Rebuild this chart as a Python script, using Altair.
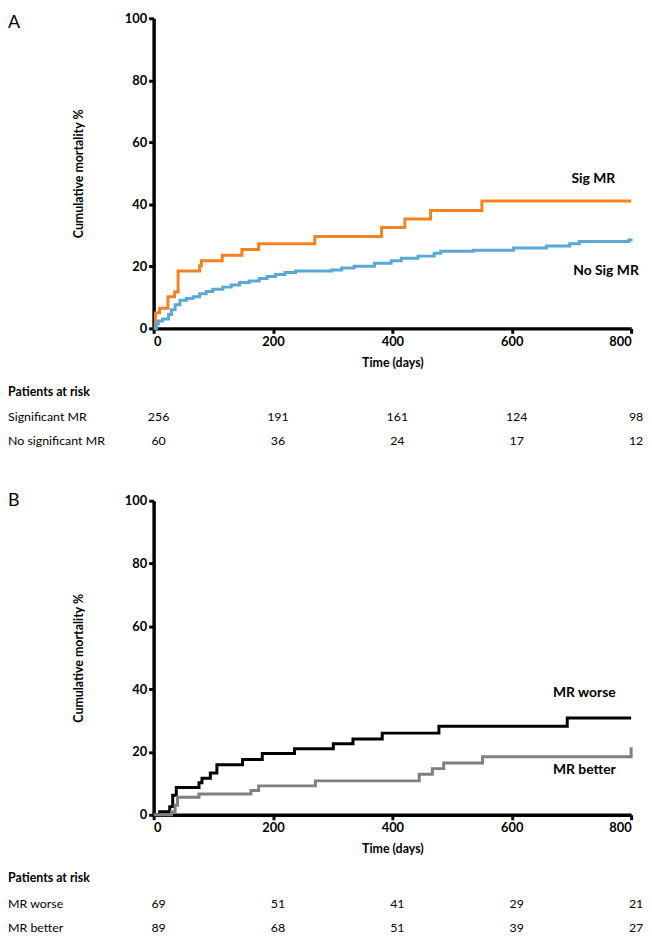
import altair as alt
import pandas as pd

FONT = "Lato"

# ---------------- Panel A data ----------------
sig_days = [0, 3, 10, 24, 35, 41, 77, 80, 115, 148, 176, 270, 382, 421, 464, 550, 800]
sig_pct = [0, 5.0, 6.5, 10.2, 11.7, 18.5, 20.2, 21.8, 23.6, 25.4, 27.3, 29.6, 32.5, 35.3, 38.0, 41.1, 41.1]

nosig_days = [0, 5, 8, 15, 25, 30, 36, 44, 55, 66, 77, 88, 99, 116, 130, 144, 160, 177, 190, 204,
              220, 238, 298, 315, 336, 370, 398, 415, 443, 470, 481, 536, 603, 658, 697, 713, 796, 800, 800]
nosig_pct = [0, 1.5, 2.4, 3.0, 4.5, 6.0, 7.6, 9.1, 9.6, 10.2, 11.2, 11.9, 12.6, 13.3, 14.0, 14.8, 15.3, 16.1, 16.7, 17.4,
             18.0, 18.5, 18.8, 19.5, 20.0, 21.0, 21.8, 22.6, 23.3, 24.2, 24.9, 25.2, 25.9, 26.6, 27.3, 28.0, 28.5, 28.5, 29.0]

# ---------------- Panel B data ----------------
worse_days = [0, 10, 27, 32, 38, 76, 81, 95, 106, 149, 182, 236, 301, 334, 383, 478, 693, 800]
worse_pct = [0, 1.0, 2.6, 6.2, 8.7, 10.2, 11.6, 13.3, 15.9, 17.6, 19.5, 21.0, 22.6, 24.1, 26.0, 28.2, 30.8, 30.8]

better_days = [0, 30, 36, 40, 76, 163, 176, 271, 445, 467, 486, 551, 800, 800]
better_pct = [0, 1.0, 3.0, 5.6, 6.6, 7.7, 9.2, 10.8, 12.9, 14.7, 16.5, 18.5, 18.5, 21.5]

# at-risk tables
risk_times = [0, 200, 400, 600, 800]
riskA_labels = ["Significant MR", "No significant MR"]
riskA_values = [[256, 191, 161, 124, 98], [60, 36, 24, 17, 12]]
riskB_labels = ["MR worse", "MR better"]
riskB_values = [[69, 51, 41, 29, 21], [89, 68, 51, 39, 27]]

# curve labels
labelsA = ["Sig MR", "No Sig MR"]
labelsA_x = [700, 703]
labelsA_y = [48, 18.6]
labelsB = ["MR worse", "MR better"]
labelsB_x = [669, 669]
labelsB_y = [38.9, 14.3]

W = 482


def curves_df(series):
    rows = []
    for name, d, p in series:
        for i, (x, y) in enumerate(zip(d, p)):
            rows.append({"series": name, "day": x, "pct": y, "idx": i})
    return pd.DataFrame(rows)


def panel(series, colors, lab_text, lab_x, lab_y, risk_labels, risk_values, letter, letter_y, H):
    df = curves_df(series)
    names = [s[0] for s in series]
    xs = alt.X("day:Q", scale=alt.Scale(domain=[0, 800], nice=False),
               axis=alt.Axis(values=[0, 200, 400, 600, 800], title="Time (days)", titlePadding=8))
    ys = alt.Y("pct:Q", scale=alt.Scale(domain=[0, 100], nice=False),
               axis=alt.Axis(values=[0, 20, 40, 60, 80, 100], title="Cumulative mortality %",
                             titleX=-76, titleY=H / 2, titleAngle=-90, titleAlign="center",
                             titleBaseline="middle"))
    lines = alt.Chart(df).mark_line(interpolate="step-after", strokeWidth=3).encode(
        x=xs, y=ys,
        color=alt.Color("series:N", scale=alt.Scale(domain=names, range=colors), legend=None),
        order="idx:Q",
    )
    ldf = pd.DataFrame({"t": lab_text, "day": lab_x, "pct": lab_y})
    labels = alt.Chart(ldf).mark_text(align="left", baseline="middle", font=FONT, fontSize=14,
                                      fontWeight="bold", color="black").encode(
        x="day:Q", y="pct:Q", text="t:N")

    layers = [lines, labels]
    layers.append(alt.Chart(pd.DataFrame({"t": [letter]})).mark_text(
        align="left", baseline="middle", font=FONT, fontSize=18, color="black").encode(
        text="t:N", x=alt.value(-147), y=alt.value(letter_y)))
    layers.append(alt.Chart(pd.DataFrame({"t": ["Patients at risk"]})).mark_text(
        align="left", baseline="middle", font=FONT, fontSize=12.5, fontWeight="bold", color="black").encode(
        text="t:N", x=alt.value(-147), y=alt.value(H + 64)))
    for r, (lab, vals) in enumerate(zip(risk_labels, risk_values)):
        yv = H + 90 + r * 24
        layers.append(alt.Chart(pd.DataFrame({"t": [lab]})).mark_text(
            align="left", baseline="middle", font=FONT, fontSize=12.5, color="black").encode(
            text="t:N", x=alt.value(-147), y=alt.value(yv)))
        rdf = pd.DataFrame({"day": risk_times, "n": vals})
        layers.append(alt.Chart(rdf).mark_text(
            align="center", baseline="middle", font=FONT, fontSize=12.5, color="black", dx=5).encode(
            x=alt.X("day:Q"), text="n:N", y=alt.value(yv)))
    return alt.layer(*layers).properties(width=W, height=H)


A = panel([("Sig MR", sig_days, sig_pct), ("No Sig MR", nosig_days, nosig_pct)],
          ["#F58220", "#5AA8D6"], labelsA, labelsA_x, labelsA_y, riskA_labels, riskA_values, "A", 5, 313)
B = panel([("MR worse", worse_days, worse_pct), ("MR better", better_days, better_pct)],
          ["#000000", "#808080"], labelsB, labelsB_x, labelsB_y, riskB_labels, riskB_values, "B", 0, 317)

chart = alt.vconcat(A, B, spacing=44).resolve_scale(color="independent").properties(
    padding=0
).configure_view(stroke=None).configure_axis(
    grid=False, domainColor="black", domainWidth=3.5, tickColor="black", tickWidth=3, tickSize=5,
    labelFont=FONT, labelFontSize=13, labelFontWeight="bold", labelColor="black", labelPadding=2,
    titleFont=FONT, titleFontSize=12.5, titleFontWeight="bold", titleColor="black",
)

chart.save("out.html", embed_options={"renderer": "svg", "actions": False})
